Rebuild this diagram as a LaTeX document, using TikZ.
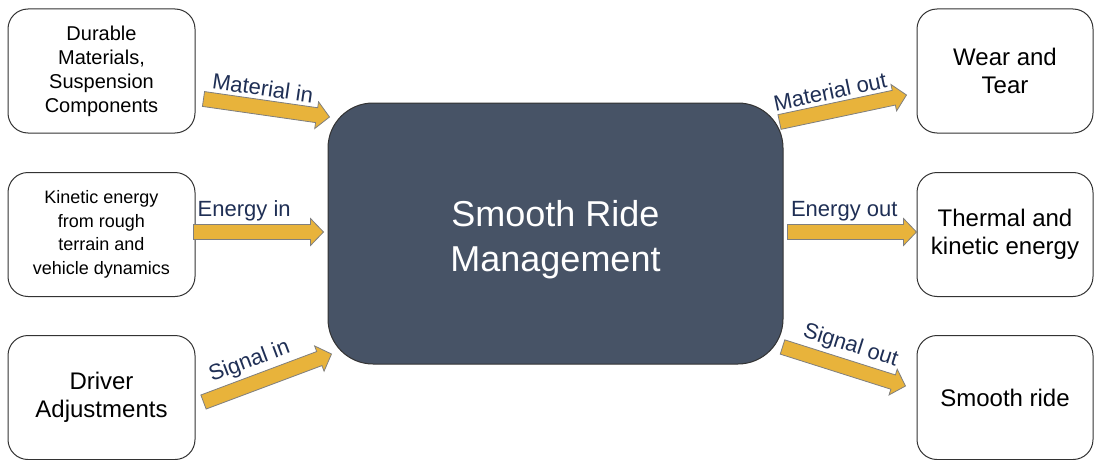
\documentclass[tikz,border=0pt]{standalone}
\usepackage{fontspec}
\setmainfont{Liberation Sans}
\usepackage{tikz}
\usetikzlibrary{calc,positioning}
\usepackage{xcolor}
\definecolor{figcore}{HTML}{475366}
\definecolor{figedge}{HTML}{333333}
\definecolor{figgold}{HTML}{E8B33B}
\definecolor{figrim}{HTML}{7F7F7F}
\definecolor{fignavy}{HTML}{1F2F55}

% block arrow from #1 to #2, head 13pt long
\newcommand{\flowarrow}[2]{%
  \coordinate (neck) at ($(#2)!13pt!(#1)$);
  \draw[flow] ($(#1)!7.5pt!90:(#2)$) -- ($(neck)!7.5pt!90:(#2)$) -- ($(neck)!13.5pt!90:(#2)$)
    -- (#2) -- ($(neck)!13.5pt!-90:(#2)$) -- ($(neck)!7.5pt!-90:(#2)$) -- ($(#1)!7.5pt!-90:(#2)$) -- cycle;
}

\begin{document}
\begin{tikzpicture}[x=1pt, y=-1pt,
  box/.style={draw=figedge, line width=1pt, rounded corners=20pt, fill=white, align=center, minimum width=187pt, minimum height=124pt, inner sep=4pt},
  core/.style={draw=figedge, line width=1pt, rounded corners=45pt, fill=figcore, text=white, align=center, minimum width=455pt, minimum height=261pt, font=\fontsize{36}{45}\selectfont},
  flow/.style={fill=figgold, draw=figrim, line width=0.8pt, line join=miter},
  flowlabel/.style={sloped, above=11pt, inner sep=0pt, text=fignavy, font=\fontsize{22}{26}\selectfont}
]
\useasboundingbox (0,0) rectangle (1094,460);

\node[core] (core) at (555.5,233.5) {\rule{0pt}{38pt}Smooth Ride\\Management};

\node[box, font=\fontsize{20}{24}\selectfont] (lt) at (101.5,71) {Durable\\Materials,\\Suspension\\Components};
\node[box, font=\fontsize{18}{23.5}\selectfont] (lm) at (101.5,234.5) {Kinetic energy\\from rough\\terrain and\\vehicle dynamics};
\node[box, font=\fontsize{24}{28}\selectfont] (lb) at (101.5,397.5) {Driver\\Adjustments};

\node[box, minimum width=176pt, font=\fontsize{24}{28}\selectfont] (rt) at (1005,71) {Wear and\\Tear};
\node[box, minimum width=176pt, font=\fontsize{24}{28}\selectfont] (rm) at (1005,234.5) {Thermal and\\kinetic energy};
\node[box, minimum width=176pt, font=\fontsize{24}{28}\selectfont] (rb) at (1005,397.5) {Smooth ride};

% arrow ends, kept off the box borders
\coordinate (mi-a) at ($(lt.east)+(8,28)$);
\coordinate (mi-b) at ($(core.west)+(2,-116.5)$);
\coordinate (ei-a) at ($(lm.east)+(-2,-2.5)$);
\coordinate (ei-b) at ($(core.west)+(-4,-1.5)$);
\coordinate (si-a) at ($(lb.east)+(8,4.5)$);
\coordinate (si-b) at ($(core.west)+(4,120.5)$);
\coordinate (mo-a) at ($(core.east)+(-4,-111.5)$);
\coordinate (mo-b) at ($(rt.west)+(-10,24)$);
\coordinate (eo-a) at ($(core.east)+(4,-1.5)$);
\coordinate (eo-b) at ($(rm.west)+(0,-2.5)$);
\coordinate (so-a) at ($(core.east)+(-1,113.5)$);
\coordinate (so-b) at ($(rb.west)+(-11,-11.5)$);

\flowarrow{mi-a}{mi-b}
\flowarrow{ei-a}{ei-b}
\flowarrow{si-a}{si-b}
\flowarrow{mo-a}{mo-b}
\flowarrow{eo-a}{eo-b}
\flowarrow{so-a}{so-b}

\path (mi-a) -- (mi-b) node[flowlabel, pos=.45] {Material in};
\path (ei-a) -- (ei-b) node[flowlabel, pos=.39] {Energy in};
\path (si-a) -- (si-b) node[flowlabel, pos=.42] {Signal in};
\path (mo-a) -- (mo-b) node[flowlabel, pos=.43] {Material out};
\path (eo-a) -- (eo-b) node[flowlabel, pos=.44] {Energy out};
\path (so-a) -- (so-b) node[flowlabel, pos=.5] {Signal out};
\end{tikzpicture}
\end{document}
